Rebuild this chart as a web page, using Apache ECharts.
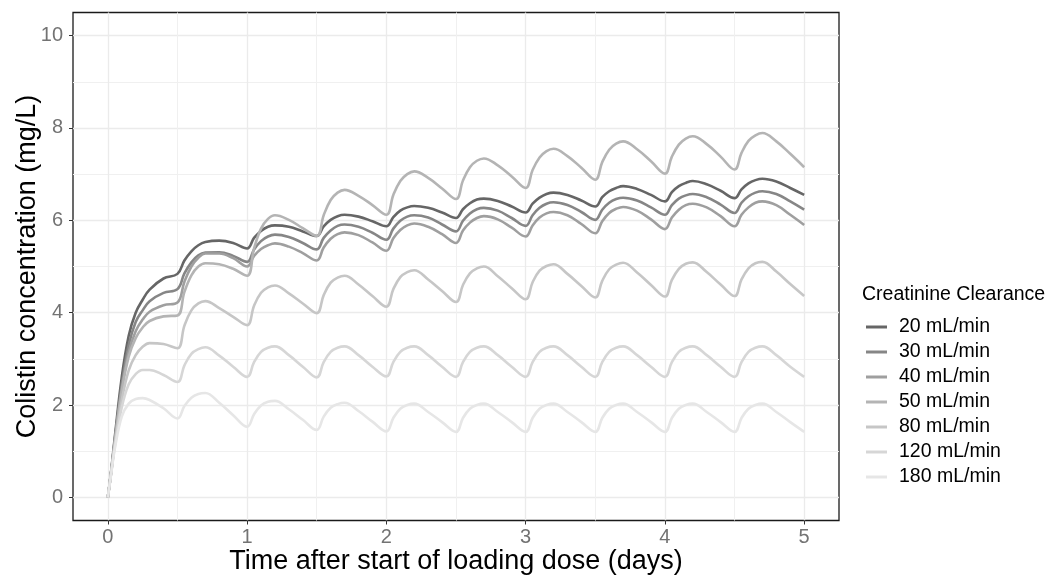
<!DOCTYPE html>
<html>
<head>
<meta charset="utf-8">
<script src="https://cdn.jsdelivr.net/npm/echarts@6/dist/echarts.min.js"></script>
<style>
  html, body { margin: 0; padding: 0; background: #fff; }
  #chart { width: 1057px; height: 576px; }
</style>
</head>
<body>
<div id="chart"></div>
<script>
// time after start of loading dose (days)
const times = [
  0, 0.025, 0.05, 0.1, 0.15, 0.2, 0.25, 0.3, 0.4,
  0.5, 0.55, 0.6, 0.65, 0.7, 0.8, 0.9,
  1.0, 1.05, 1.1, 1.15, 1.2, 1.3, 1.4,
  1.5, 1.55, 1.6, 1.65, 1.7, 1.8, 1.9,
  2.0, 2.05, 2.1, 2.15, 2.2, 2.3, 2.4,
  2.5, 2.55, 2.6, 2.65, 2.7, 2.8, 2.9,
  3.0, 3.05, 3.1, 3.15, 3.2, 3.3, 3.4,
  3.5, 3.55, 3.6, 3.65, 3.7, 3.8, 3.9,
  4.0, 4.05, 4.1, 4.15, 4.2, 4.3, 4.4,
  4.5, 4.55, 4.6, 4.65, 4.7, 4.8, 4.9,
  5.0
];

// colistin concentration (mg/L) per creatinine clearance group
const cl20 = [
  0, 0.6, 1.3, 2.6, 3.5, 4.0, 4.28, 4.5, 4.74,
  4.84, 5.13, 5.33, 5.46, 5.53, 5.56, 5.51,
  5.39, 5.62, 5.77, 5.86, 5.89, 5.86, 5.76,
  5.66, 5.87, 6.01, 6.09, 6.12, 6.08, 5.98,
  5.87, 6.07, 6.21, 6.28, 6.31, 6.27, 6.17,
  6.05, 6.24, 6.37, 6.45, 6.47, 6.42, 6.30,
  6.17, 6.36, 6.49, 6.57, 6.60, 6.55, 6.43,
  6.30, 6.50, 6.63, 6.70, 6.74, 6.68, 6.55,
  6.41, 6.61, 6.74, 6.81, 6.85, 6.78, 6.64,
  6.48, 6.67, 6.80, 6.87, 6.90, 6.84, 6.70,
  6.55
];
const cl30 = [
  0, 0.58, 1.25, 2.45, 3.3, 3.8, 4.05, 4.25, 4.43,
  4.51, 4.85, 5.09, 5.24, 5.30, 5.31, 5.23,
  5.10, 5.37, 5.55, 5.65, 5.69, 5.64, 5.51,
  5.37, 5.62, 5.78, 5.88, 5.91, 5.86, 5.73,
  5.58, 5.82, 5.99, 6.08, 6.11, 6.06, 5.91,
  5.76, 5.99, 6.15, 6.24, 6.27, 6.21, 6.05,
  5.88, 6.11, 6.27, 6.36, 6.39, 6.33, 6.18,
  6.01, 6.23, 6.38, 6.46, 6.49, 6.43, 6.28,
  6.12, 6.33, 6.47, 6.54, 6.57, 6.50, 6.34,
  6.16, 6.38, 6.52, 6.60, 6.63, 6.57, 6.41,
  6.23
];
const cl40 = [
  0, 0.57, 1.22, 2.35, 3.15, 3.6, 3.85, 4.02, 4.16,
  4.22, 4.67, 5.00, 5.19, 5.28, 5.28, 5.18,
  5.00, 5.23, 5.38, 5.46, 5.50, 5.43, 5.29,
  5.13, 5.41, 5.60, 5.70, 5.74, 5.68, 5.52,
  5.34, 5.61, 5.79, 5.89, 5.93, 5.86, 5.70,
  5.51, 5.78, 5.95, 6.05, 6.09, 6.02, 5.84,
  5.65, 5.89, 6.06, 6.15, 6.18, 6.11, 5.92,
  5.72, 5.98, 6.16, 6.25, 6.29, 6.21, 6.02,
  5.81, 6.06, 6.23, 6.33, 6.36, 6.28, 6.09,
  5.87, 6.12, 6.28, 6.38, 6.41, 6.33, 6.12,
  5.90
];
const cl50 = [
  0, 0.56, 1.2, 2.3, 3.05, 3.45, 3.68, 3.82, 3.92,
  3.94, 4.45, 4.81, 5.00, 5.07, 5.05, 4.95,
  4.80, 5.39, 5.82, 6.03, 6.11, 6.01, 5.83,
  5.66, 6.11, 6.44, 6.60, 6.66, 6.53, 6.33,
  6.12, 6.55, 6.85, 7.00, 7.06, 6.92, 6.69,
  6.46, 6.86, 7.15, 7.29, 7.34, 7.19, 6.95,
  6.70, 7.09, 7.36, 7.50, 7.55, 7.39, 7.14,
  6.88, 7.26, 7.53, 7.66, 7.71, 7.54, 7.28,
  7.01, 7.38, 7.64, 7.77, 7.82, 7.65, 7.38,
  7.10, 7.46, 7.72, 7.84, 7.89, 7.71, 7.44,
  7.15
];
const cl80 = [
  0, 0.55, 1.15, 2.1, 2.75, 3.08, 3.26, 3.34, 3.32,
  3.23, 3.72, 4.05, 4.20, 4.25, 4.10, 3.91,
  3.73, 4.15, 4.43, 4.55, 4.59, 4.42, 4.20,
  3.99, 4.38, 4.65, 4.76, 4.80, 4.61, 4.36,
  4.13, 4.51, 4.77, 4.88, 4.92, 4.72, 4.47,
  4.23, 4.60, 4.85, 4.96, 5.00, 4.79, 4.53,
  4.29, 4.66, 4.91, 5.01, 5.05, 4.84, 4.58,
  4.33, 4.69, 4.94, 5.04, 5.08, 4.87, 4.60,
  4.35, 4.71, 4.95, 5.06, 5.09, 4.88, 4.61,
  4.36, 4.72, 4.96, 5.07, 5.10, 4.89, 4.62,
  4.36
];
const cl120 = [
  0, 0.55, 1.1, 1.95, 2.45, 2.67, 2.76, 2.76, 2.65,
  2.50, 2.86, 3.11, 3.21, 3.25, 3.07, 2.83,
  2.61, 2.93, 3.15, 3.24, 3.27, 3.08, 2.83,
  2.60, 2.93, 3.15, 3.24, 3.27, 3.08, 2.83,
  2.62, 2.93, 3.15, 3.24, 3.27, 3.08, 2.83,
  2.61, 2.93, 3.15, 3.24, 3.27, 3.08, 2.83,
  2.61, 2.93, 3.15, 3.24, 3.27, 3.08, 2.83,
  2.61, 2.93, 3.15, 3.24, 3.27, 3.08, 2.83,
  2.61, 2.93, 3.15, 3.24, 3.27, 3.08, 2.83,
  2.61, 2.93, 3.15, 3.24, 3.27, 3.08, 2.83,
  2.61
];
const cl180 = [
  0, 0.53, 1.05, 1.75, 2.03, 2.13, 2.15, 2.11, 1.93,
  1.71, 1.98, 2.16, 2.24, 2.26, 2.05, 1.78,
  1.53, 1.80, 1.99, 2.07, 2.09, 1.91, 1.68,
  1.46, 1.75, 1.94, 2.02, 2.05, 1.87, 1.64,
  1.43, 1.72, 1.92, 2.00, 2.03, 1.85, 1.63,
  1.42, 1.72, 1.92, 2.00, 2.03, 1.85, 1.63,
  1.42, 1.72, 1.92, 2.00, 2.03, 1.85, 1.63,
  1.42, 1.72, 1.92, 2.00, 2.03, 1.85, 1.63,
  1.42, 1.72, 1.92, 2.00, 2.03, 1.85, 1.63,
  1.42, 1.72, 1.92, 2.00, 2.03, 1.85, 1.63,
  1.42
];

const seriesNames = ["20 mL/min", "30 mL/min", "40 mL/min", "50 mL/min", "80 mL/min", "120 mL/min", "180 mL/min"];
const seriesValues = [cl20, cl30, cl40, cl50, cl80, cl120, cl180];
const seriesColors = ["#666666", "#868686", "#9f9f9f", "#b4b4b4", "#c6c6c6", "#d6d6d6", "#e6e6e6"];

// axis ticks
const xTicks = [0, 1, 2, 3, 4, 5];
const xMinorTicks = [0.5, 1.5, 2.5, 3.5, 4.5];
const yTicks = [0, 2, 4, 6, 8, 10];
const yMinorTicks = [1, 3, 5, 7, 9];

const font = "Liberation Sans, Arial, sans-serif";

const options = {
  animation: false,
  textStyle: { fontFamily: font },
  title: {
    text: "Creatinine Clearance",
    left: 862,
    top: 284,
    padding: 0,
    textStyle: { fontSize: 19.5, fontWeight: "normal", color: "#000", lineHeight: 22, fontFamily: font },
  },
  legend: {
    orient: "vertical",
    left: 866,
    top: 317,
    padding: 0,
    icon: "rect",
    itemWidth: 21,
    itemHeight: 3,
    itemGap: 5,
    data: seriesNames,
    textStyle: { fontSize: 19.5, color: "#000", lineHeight: 20, padding: [0, 0, 0, 7], fontFamily: font },
  },
  grid: {
    left: 73,
    right: 218,
    top: 12.5,
    bottom: 55.5,
    outerBoundsMode: "none",
    show: true,
    borderColor: "#1a1a1a",
    borderWidth: 1.3,
    backgroundColor: "#fff",
  },
  xAxis: [
    {
      type: "value",
      min: -0.25,
      max: 5.25,
      name: "Time after start of loading dose (days)",
      nameLocation: "middle",
      nameGap: 28,
      nameMoveOverlap: false,
      nameTextStyle: { fontSize: 27, color: "#000", fontFamily: font },
      axisLine: { show: false, onZero: false },
      axisTick: { show: true, length: 4, customValues: xTicks, lineStyle: { color: "#333" } },
      axisLabel: { customValues: xTicks, fontSize: 20, color: "#737373", margin: 7 },
      splitLine: { show: true, lineStyle: { color: "#ebebeb", width: 1.3 } },
    },
    {
      type: "value",
      min: -0.25,
      max: 5.25,
      position: "top",
      axisLine: { show: false, onZero: false },
      axisTick: { show: false, customValues: xMinorTicks },
      axisLabel: { show: false, customValues: xMinorTicks },
      splitLine: { show: true, lineStyle: { color: "#f0f0f0", width: 1 } },
    },
  ],
  yAxis: [
    {
      type: "value",
      min: -0.5,
      max: 10.5,
      name: "Colistin concentration (mg/L)",
      nameLocation: "middle",
      nameGap: 32,
      nameMoveOverlap: false,
      nameTextStyle: { fontSize: 27, color: "#000", fontFamily: font },
      axisLine: { show: false, onZero: false },
      axisTick: { show: true, length: 4, customValues: yTicks, lineStyle: { color: "#333" } },
      axisLabel: { customValues: yTicks, fontSize: 20, color: "#737373", margin: 10 },
      splitLine: { show: true, lineStyle: { color: "#ebebeb", width: 1.3 } },
    },
    {
      type: "value",
      min: -0.5,
      max: 10.5,
      position: "right",
      axisLine: { show: false, onZero: false },
      axisTick: { show: false, customValues: yMinorTicks },
      axisLabel: { show: false, customValues: yMinorTicks },
      splitLine: { show: true, lineStyle: { color: "#f0f0f0", width: 1 } },
    },
  ],
  series: seriesNames.map((name, k) => ({
    name: name,
    type: "line",
    xAxisIndex: 0,
    yAxisIndex: 0,
    showSymbol: false,
    smooth: 0.4,
    color: seriesColors[k],
    lineStyle: { color: seriesColors[k], width: 2.6 },
    data: times.map((t, i) => [t, seriesValues[k][i]]),
  })),
};

const chart = echarts.init(document.getElementById("chart"));
chart.setOption(options);

window.addEventListener("resize", () => {
  chart.resize();
});
</script>
</body>
</html>
